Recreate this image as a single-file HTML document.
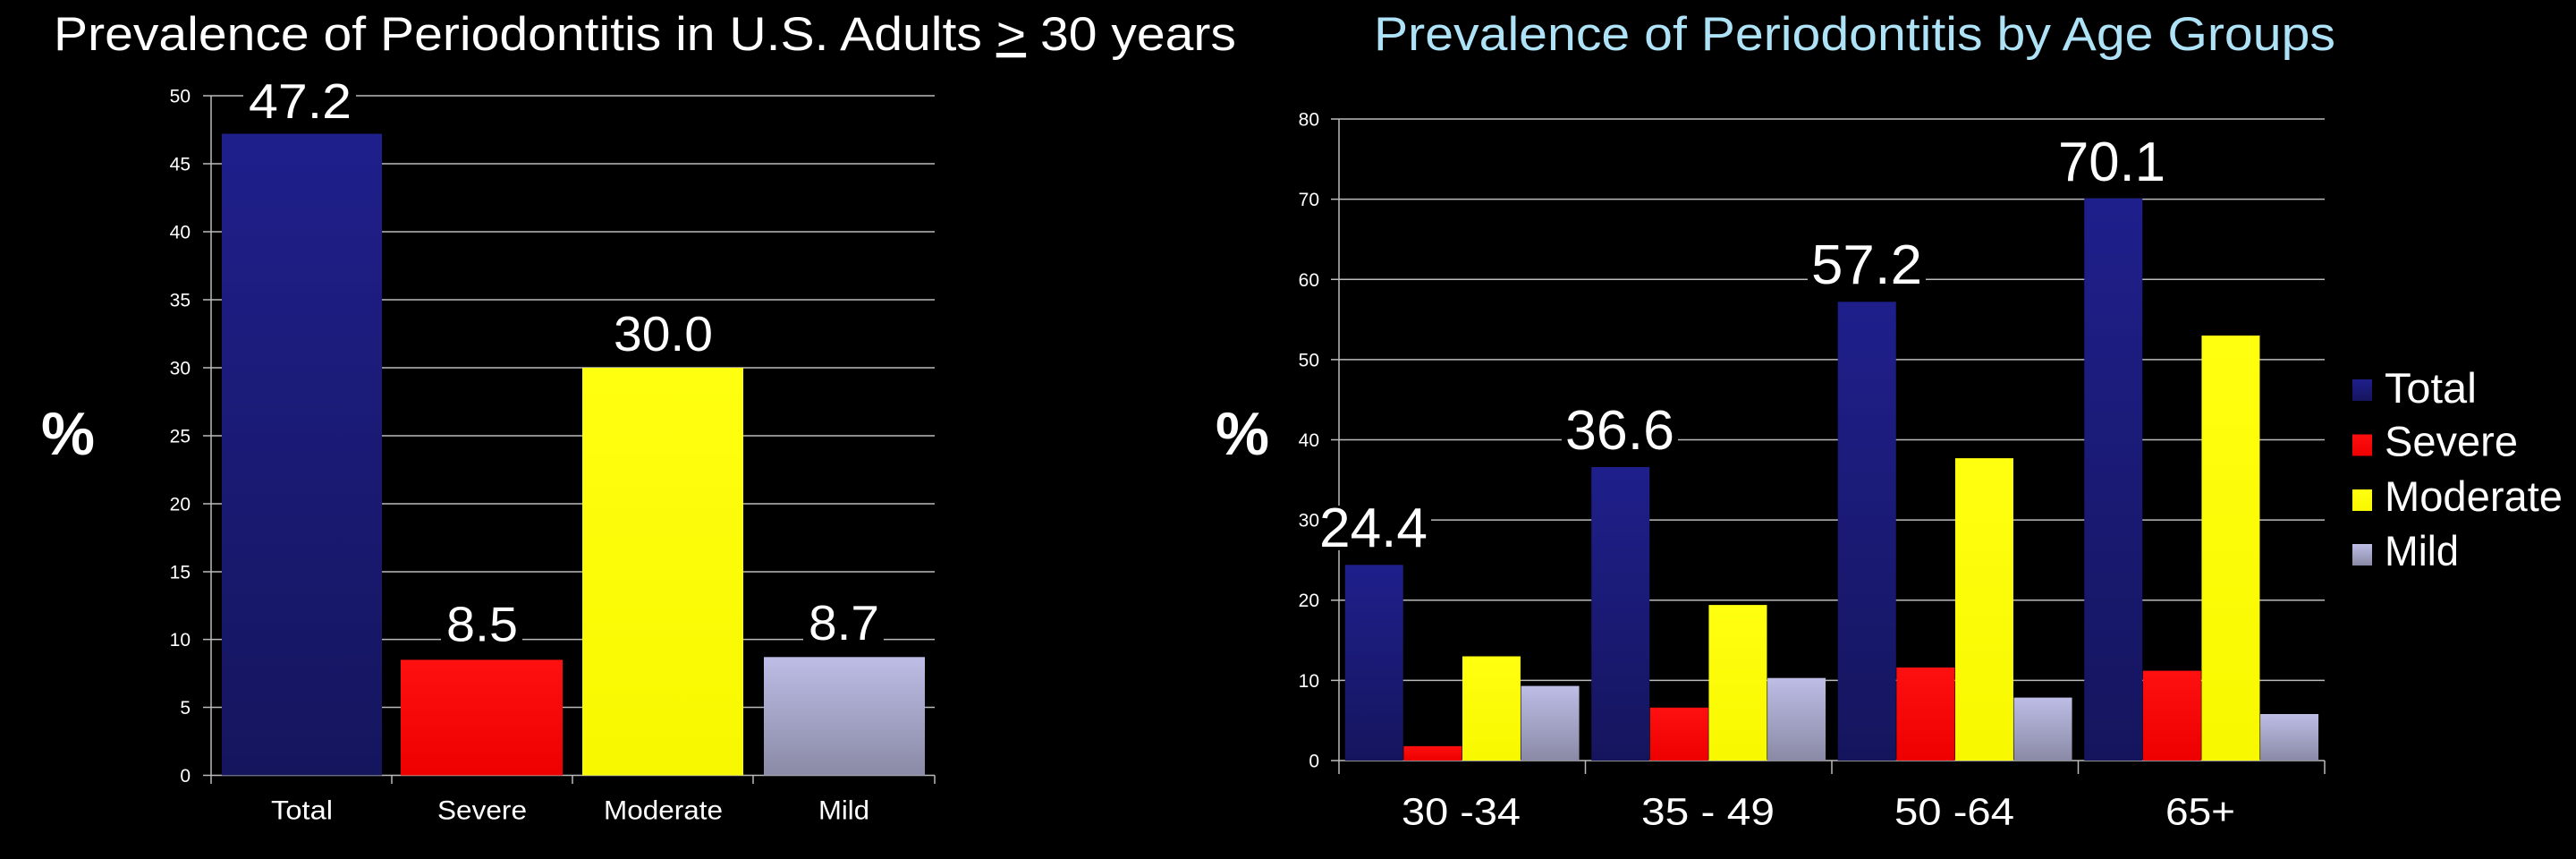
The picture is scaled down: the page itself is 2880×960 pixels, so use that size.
<!DOCTYPE html>
<html><head><meta charset="utf-8"><style>html,body{margin:0;padding:0;background:#000}svg{display:block}</style></head>
<body>
<svg width="2880" height="960" viewBox="0 0 2880 960" xmlns="http://www.w3.org/2000/svg" font-family="Liberation Sans, sans-serif">
<defs>
<linearGradient id="gb" x1="0" y1="0" x2="0" y2="1"><stop offset="0" stop-color="#1f1f8c"/><stop offset="1" stop-color="#15155e"/></linearGradient>
<linearGradient id="gm" x1="0" y1="0" x2="0" y2="1"><stop offset="0" stop-color="#bdbde6"/><stop offset="1" stop-color="#8a8aa6"/></linearGradient>
<linearGradient id="gr" x1="0" y1="0" x2="0" y2="1"><stop offset="0" stop-color="#ff1010"/><stop offset="1" stop-color="#ee0000"/></linearGradient>
<linearGradient id="gy" x1="0" y1="0" x2="0" y2="1"><stop offset="0" stop-color="#ffff10"/><stop offset="1" stop-color="#f8f800"/></linearGradient>
</defs>
<rect width="2880" height="960" fill="#000"/>
<!-- LEFT CHART -->
<text x="60" y="56" font-size="53" fill="#fff" textLength="1322" lengthAdjust="spacingAndGlyphs">Prevalence of Periodontitis in U.S. Adults <tspan text-decoration="underline">&gt;</tspan> 30 years</text>
<text x="46" y="508" font-size="68" font-weight="bold" fill="#fff" textLength="60" lengthAdjust="spacingAndGlyphs">%</text>
<g stroke="#bbb" stroke-width="1.5">
<line x1="227" y1="107" x2="1045" y2="107"/><line x1="227" y1="183" x2="1045" y2="183"/><line x1="227" y1="259" x2="1045" y2="259"/><line x1="227" y1="335" x2="1045" y2="335"/><line x1="227" y1="411" x2="1045" y2="411"/><line x1="227" y1="487" x2="1045" y2="487"/><line x1="227" y1="563" x2="1045" y2="563"/><line x1="227" y1="639" x2="1045" y2="639"/><line x1="227" y1="714.6" x2="1045" y2="714.6"/><line x1="227" y1="790.5" x2="1045" y2="790.5"/><line x1="227" y1="866.5" x2="1045" y2="866.5"/>
<line x1="236" y1="107" x2="236" y2="876"/>
<line x1="438" y1="866.5" x2="438" y2="876"/><line x1="640" y1="866.5" x2="640" y2="876"/><line x1="842" y1="866.5" x2="842" y2="876"/><line x1="1045" y1="866.5" x2="1045" y2="876"/>
</g>
<g font-size="21" fill="#fff" text-anchor="end">
<text x="213" y="114.5">50</text><text x="213" y="190.5">45</text><text x="213" y="266.5">40</text><text x="213" y="342.5">35</text><text x="213" y="418.5">30</text><text x="213" y="494.5">25</text><text x="213" y="570.5">20</text><text x="213" y="646.5">15</text><text x="213" y="722">10</text><text x="213" y="798">5</text><text x="213" y="874">0</text>
</g>
<rect x="248" y="149.5" width="179" height="717" fill="url(#gb)"/>
<rect x="448" y="737.4" width="181" height="129.1" fill="url(#gr)"/>
<rect x="651" y="411" width="180" height="455.5" fill="url(#gy)"/>
<rect x="854" y="734.3" width="180" height="132.2" fill="url(#gm)"/>
<g fill="#000"><rect x="272" y="92" width="126" height="44"/><rect x="493" y="678" width="91" height="42"/><rect x="898" y="677" width="90" height="42"/><rect x="682" y="353" width="119" height="43"/></g>
<g font-size="55" fill="#fff">
<text x="278" y="132" textLength="115" lengthAdjust="spacingAndGlyphs">47.2</text>
<text x="686" y="392" textLength="111" lengthAdjust="spacingAndGlyphs">30.0</text>
<text x="499" y="716.5" textLength="80" lengthAdjust="spacingAndGlyphs">8.5</text>
<text x="904" y="715" textLength="79" lengthAdjust="spacingAndGlyphs">8.7</text>
</g>
<g font-size="30" fill="#fff">
<text x="303" y="915.5" textLength="69" lengthAdjust="spacingAndGlyphs">Total</text>
<text x="489" y="915.5" textLength="100" lengthAdjust="spacingAndGlyphs">Severe</text>
<text x="675" y="915.5" textLength="133" lengthAdjust="spacingAndGlyphs">Moderate</text>
<text x="915" y="915.5" textLength="57" lengthAdjust="spacingAndGlyphs">Mild</text>
</g>
<!-- RIGHT CHART -->
<text x="1536" y="56" font-size="53" fill="#aee2f7" textLength="1075" lengthAdjust="spacingAndGlyphs">Prevalence of Periodontitis by Age Groups</text>
<text x="1359" y="508" font-size="68" font-weight="bold" fill="#fff" textLength="60" lengthAdjust="spacingAndGlyphs">%</text>
<g stroke="#bbb" stroke-width="1.5">
<line x1="1488" y1="133" x2="2599" y2="133"/><line x1="1488" y1="222.6" x2="2599" y2="222.6"/><line x1="1488" y1="312.25" x2="2599" y2="312.25"/><line x1="1488" y1="401.9" x2="2599" y2="401.9"/><line x1="1488" y1="491.5" x2="2599" y2="491.5"/><line x1="1488" y1="581.1" x2="2599" y2="581.1"/><line x1="1488" y1="670.75" x2="2599" y2="670.75"/><line x1="1488" y1="760.4" x2="2599" y2="760.4"/><line x1="1488" y1="850" x2="2599" y2="850"/>
<line x1="1497" y1="133" x2="1497" y2="865"/>
<line x1="1772.5" y1="850" x2="1772.5" y2="865"/><line x1="2048" y1="850" x2="2048" y2="865"/><line x1="2323.5" y1="850" x2="2323.5" y2="865"/><line x1="2599" y1="850" x2="2599" y2="865"/>
</g>
<g font-size="21" fill="#fff" text-anchor="end">
<text x="1475" y="140.5">80</text><text x="1475" y="230">70</text><text x="1475" y="320">60</text><text x="1475" y="409.5">50</text><text x="1475" y="499">40</text><text x="1475" y="588.5">30</text><text x="1475" y="678">20</text><text x="1475" y="768">10</text><text x="1475" y="857.5">0</text>
</g>
<g>
<rect x="1503.75" y="631.3" width="65" height="218.7" fill="url(#gb)"/>
<rect x="1569.35" y="833.9" width="65" height="16.1" fill="url(#gr)"/>
<rect x="1634.95" y="733.5" width="65" height="116.5" fill="url(#gy)"/>
<rect x="1700.55" y="766.6" width="65" height="83.4" fill="url(#gm)"/>
<rect x="1779.25" y="522" width="65" height="328" fill="url(#gb)"/>
<rect x="1844.85" y="790.8" width="65" height="59.2" fill="url(#gr)"/>
<rect x="1910.45" y="676.1" width="65" height="173.9" fill="url(#gy)"/>
<rect x="1976.05" y="757.7" width="65" height="92.3" fill="url(#gm)"/>
<rect x="2054.75" y="337.3" width="65" height="512.7" fill="url(#gb)"/>
<rect x="2120.35" y="746" width="65" height="104" fill="url(#gr)"/>
<rect x="2185.95" y="512.1" width="65" height="337.9" fill="url(#gy)"/>
<rect x="2251.55" y="779.6" width="65" height="70.4" fill="url(#gm)"/>
<rect x="2330.25" y="221.7" width="65" height="628.3" fill="url(#gb)"/>
<rect x="2395.85" y="749.6" width="65" height="100.4" fill="url(#gr)"/>
<rect x="2461.45" y="375" width="65" height="475" fill="url(#gy)"/>
<rect x="2527.05" y="798" width="65" height="52" fill="url(#gm)"/>
</g>
<g fill="#000"><rect x="1476" y="565" width="124" height="50"/><rect x="1746" y="456" width="130" height="50"/><rect x="2021" y="270" width="132" height="51"/><rect x="2297" y="155" width="128" height="51"/></g>
<g font-size="62" fill="#fff">
<text x="1475" y="611" textLength="121" lengthAdjust="spacingAndGlyphs">24.4</text>
<text x="1750" y="502" textLength="122" lengthAdjust="spacingAndGlyphs">36.6</text>
<text x="2025" y="317" textLength="124" lengthAdjust="spacingAndGlyphs">57.2</text>
<text x="2301" y="202" textLength="120" lengthAdjust="spacingAndGlyphs">70.1</text>
</g>
<g font-size="43" fill="#fff">
<text x="1567" y="921.6" textLength="133" lengthAdjust="spacingAndGlyphs">30 -34</text>
<text x="1835" y="921.6" textLength="149" lengthAdjust="spacingAndGlyphs">35 - 49</text>
<text x="2118" y="921.6" textLength="134" lengthAdjust="spacingAndGlyphs">50 -64</text>
<text x="2421" y="921.6" textLength="78" lengthAdjust="spacingAndGlyphs">65+</text>
</g>
<rect x="2630" y="424" width="22" height="24" fill="url(#gb)"/>
<rect x="2630" y="485.5" width="22" height="24" fill="url(#gr)"/>
<rect x="2630" y="547" width="22" height="24" fill="url(#gy)"/>
<rect x="2630" y="608" width="22" height="24" fill="url(#gm)"/>
<g font-size="47" fill="#fff">
<text x="2666" y="450" textLength="103" lengthAdjust="spacingAndGlyphs">Total</text>
<text x="2666" y="509.5" textLength="149" lengthAdjust="spacingAndGlyphs">Severe</text>
<text x="2666" y="571" textLength="199" lengthAdjust="spacingAndGlyphs">Moderate</text>
<text x="2666" y="632" textLength="83" lengthAdjust="spacingAndGlyphs">Mild</text>
</g>
</svg>
</body></html>
